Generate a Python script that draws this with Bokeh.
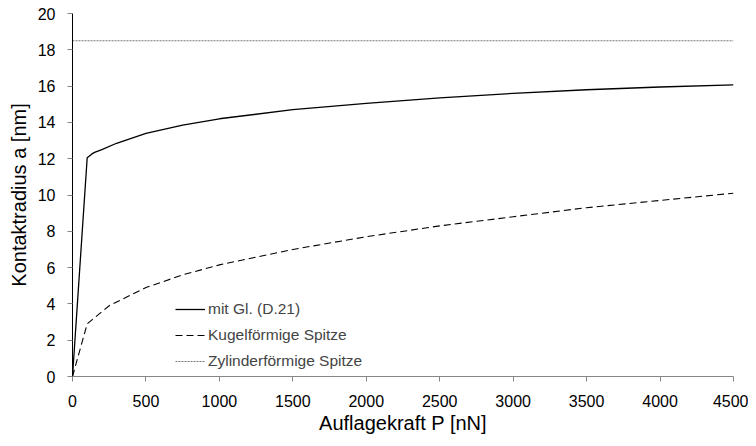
from bokeh.plotting import figure
from bokeh.models import Legend, LegendItem, FixedTicker
from bokeh.embed import file_html
from bokeh.resources import INLINE

# Data
p_solid = [0, 100, 130, 150, 200, 300, 500, 750, 1000, 1500, 2000, 2500, 3000, 3500, 4000, 4500]
a_solid = [0, 12.05, 12.25, 12.35, 12.5, 12.85, 13.4, 13.85, 14.2, 14.7, 15.05, 15.35, 15.6, 15.8, 15.95, 16.07]

p_dash = [0, 100, 250, 500, 750, 1000, 1500, 2000, 2500, 3000, 3500, 4000, 4500]
a_dash = [0, 2.9, 3.9, 4.9, 5.6, 6.15, 7.0, 7.7, 8.3, 8.8, 9.3, 9.7, 10.1]

p_cyl = [0, 4500]
a_cyl = [18.5, 18.5]

labels = ["mit Gl. (D.21)", "Kugelförmige Spitze", "Zylinderförmige Spitze"]
x_ticks = [0, 500, 1000, 1500, 2000, 2500, 3000, 3500, 4000, 4500]
y_ticks = [0, 2, 4, 6, 8, 10, 12, 14, 16, 18, 20]

FONT = "Liberation Sans"

p = figure(width=748, height=438, output_backend="svg", toolbar_location=None,
           x_range=(0, 4500), y_range=(0, 20))
p.min_border_left = 72
p.min_border_right = 15
p.min_border_top = 13
p.min_border_bottom = 62
p.outline_line_color = None
p.xgrid.visible = False
p.ygrid.visible = False

r1 = p.line(p_solid, a_solid, line_color="black", line_width=1.3)
r2 = p.line(p_dash, a_dash, line_color="black", line_width=1.1, line_dash="7 4")
r3 = p.line(p_cyl, a_cyl, line_color="#777777", line_width=1.1, line_dash="2 1")

p.xaxis.ticker = FixedTicker(ticks=x_ticks)
p.yaxis.ticker = FixedTicker(ticks=y_ticks)
p.xaxis.minor_tick_line_color = None
p.yaxis.minor_tick_line_color = None
for ax in (p.xaxis, p.yaxis):
    ax.major_tick_in = 0
    ax.major_tick_out = 5
    ax.major_label_text_font = FONT
    ax.major_label_text_font_size = "16px"
    ax.major_label_text_color = "black"
    ax.axis_label_text_font = FONT
    ax.axis_label_text_font_size = "20px"
    ax.axis_label_text_font_style = "normal"
    ax.axis_label_text_color = "black"
p.xaxis.axis_line_color = "#868686"
p.xaxis.major_tick_line_color = "#868686"
p.yaxis.axis_line_color = "black"
p.yaxis.major_tick_line_color = "#868686"
p.xaxis.major_label_standoff = 13
p.yaxis.major_label_standoff = 12
p.xaxis.axis_label_standoff = 2
p.yaxis.axis_label_standoff = 5
p.xaxis.axis_label = "Auflagekraft P [nN]"
p.yaxis.axis_label = "Kontaktradius a [nm]"

legend = Legend(items=[LegendItem(label=labels[0], renderers=[r1]),
                       LegendItem(label=labels[1], renderers=[r2]),
                       LegendItem(label=labels[2], renderers=[r3])],
                location=(103, 5))
legend.border_line_color = None
legend.background_fill_alpha = 0
legend.label_text_font = FONT
legend.label_text_font_size = "15.5px"
legend.glyph_width = 30
legend.label_standoff = 3
legend.spacing = 6
p.add_layout(legend, "center")

open("out.html", "w").write(file_html(p, INLINE))
